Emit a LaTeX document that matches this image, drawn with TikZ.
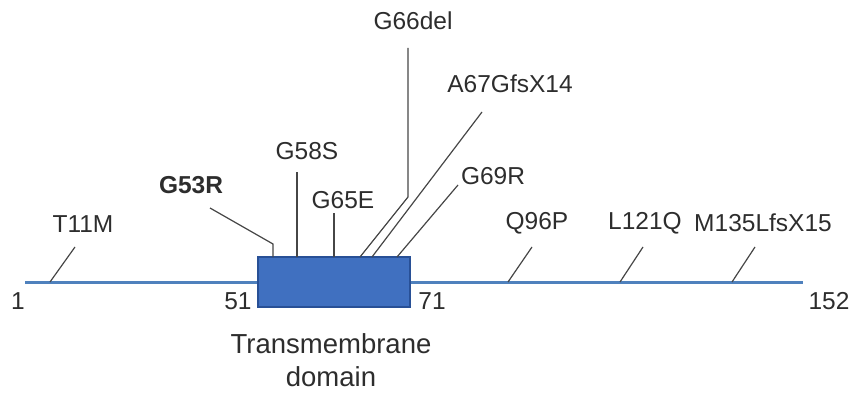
\documentclass[tikz,border=0pt]{standalone}
\usepackage{fontspec}
\setmainfont{Liberation Sans}
\usepackage{tikz}
\usetikzlibrary{positioning}
\definecolor{chainblue}{RGB}{79,129,189}
\definecolor{tmfill}{RGB}{64,112,192}
\definecolor{tmdraw}{RGB}{40,80,150}
\definecolor{leadgray}{RGB}{70,70,70}
\definecolor{txtgray}{RGB}{45,45,45}

\begin{document}
\begin{tikzpicture}[x=1pt,y=-1pt,
    lbl/.style={text=txtgray,inner sep=0pt,font=\fontsize{24.5}{28}\selectfont},
    resnum/.style={lbl},
    lead/.style={draw=leadgray,line width=1.2pt}]
    \useasboundingbox (0,0) rectangle (852,401);

    % protein chain and transmembrane domain
    \coordinate (start) at (25,282);
    \coordinate (end) at (803,282);
    \draw[chainblue,line width=3pt] (start) -- (end);
    \node[fill=tmfill,draw=tmdraw,line width=1.5pt,minimum width=152pt,minimum height=50pt,inner sep=0pt] (tm) at (334,282) {};

    \node[resnum] (p1) at (18,301) {1};
    \node[resnum] (p51) at (238,301) {51};
    \node[resnum] (p71) at (432,301) {71};
    \node[resnum] (p152) at (829,301) {152};
    \node[lbl,font=\fontsize{27.5}{33}\selectfont,align=center] (tmname) at (331,360) {Transmembrane\\domain};

    % mutations
    \node[lbl] (t11m) at (83,224) {T11M};
    \node[lbl,font=\fontsize{24.5}{28}\selectfont\bfseries] (g53r) at (191,185) {G53R};
    \node[lbl] (g58s) at (307,151) {G58S};
    \node[lbl] (g65e) at (343,200) {G65E};
    \node[lbl] (g66del) at (413,21) {G66del};
    \node[lbl] (a67) at (510,84) {A67GfsX14};
    \node[lbl] (g69r) at (493,176) {G69R};
    \node[lbl] (q96p) at (537,223) {Q96P};
    \node[lbl] (l121q) at (645,223) {L121Q};
    \node[lbl] (m135) at (763,223) {M135LfsX15};

    \coordinate (s11) at (50,282);   \coordinate (e11) at (75,247);
    \coordinate (s53) at (273,257);  \coordinate (k53) at (273,244);  \coordinate (e53) at (210,208);
    \coordinate (s58) at (297,257);  \coordinate (e58) at (297,172);
    \coordinate (s65) at (334,257);  \coordinate (e65) at (334,213);
    \coordinate (s66) at (360,257);  \coordinate (k66) at (408,197); \coordinate (e66) at (408,48);
    \coordinate (s67) at (372,257);  \coordinate (e67) at (482,112);
    \coordinate (s69) at (397,257);  \coordinate (e69) at (458,185);
    \coordinate (s96) at (508,282);  \coordinate (e96) at (532,247);
    \coordinate (s121) at (620,282); \coordinate (e121) at (643,247);
    \coordinate (s135) at (732,282); \coordinate (e135) at (755,247);

    \draw[lead] (s11) -- (e11);
    \draw[lead] (s53) -- (k53) -- (e53);
    \draw[lead] (s58) -- (e58);
    \draw[lead] (s65) -- (e65);
    \draw[lead] (s66) -- (k66) -- (e66);
    \draw[lead] (s67) -- (e67);
    \draw[lead] (s69) -- (e69);
    \draw[lead] (s96) -- (e96);
    \draw[lead] (s121) -- (e121);
    \draw[lead] (s135) -- (e135);
\end{tikzpicture}
\end{document}
